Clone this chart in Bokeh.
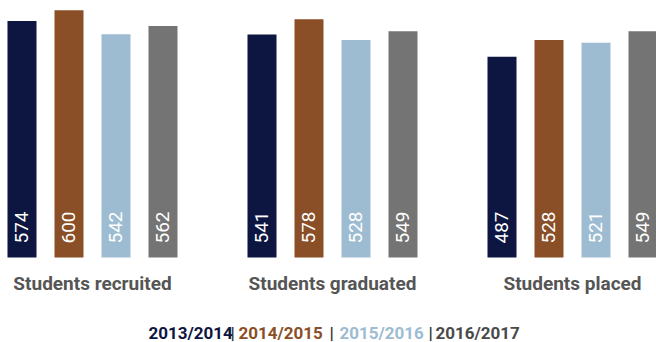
import math
from bokeh.plotting import figure
from bokeh.models import ColumnDataSource, Range1d, Label
from bokeh.transform import dodge
from bokeh.core.properties import value
from bokeh.embed import file_html
from bokeh.resources import INLINE

# ---- data ----
categories = ["Students recruited", "Students graduated", "Students placed"]
years = ["2013/2014", "2014/2015", "2015/2016", "2016/2017"]
v2013 = [574, 541, 487]
v2014 = [600, 578, 528]
v2015 = [542, 528, 521]
v2016 = [562, 549, 549]
colors = ["#0d1541", "#8a4f27", "#9dbcd1", "#747474"]

src = ColumnDataSource(data=dict(
    g=list(range(len(categories))),
    cat=categories,
    v2013=v2013, v2014=v2014, v2015=v2015, v2016=v2016,
    t2013=[str(v) for v in v2013], t2014=[str(v) for v in v2014],
    t2015=[str(v) for v in v2015], t2016=[str(v) for v in v2016],
))

p = figure(width=656, height=342, output_backend="svg", toolbar_location=None,
           x_range=Range1d(-0.3833, 2.35), y_range=Range1d(-206.3, 623.8),
           min_border=0, x_axis_location=None, y_axis_location=None)
p.outline_line_color = None
p.xgrid.visible = False
p.ygrid.visible = False
p.background_fill_color = "white"
p.border_fill_color = "white"

pitch = 47 / 240
offsets = [-1.5 * pitch, -0.5 * pitch, 0.5 * pitch, 1.5 * pitch]
keys = ["2013", "2014", "2015", "2016"]
for k, off, col in zip(keys, offsets, colors):
    p.vbar(x=dodge("g", off, range=p.x_range), top="v" + k, bottom=0,
           width=29 / 240, source=src, fill_color=col, line_color=None)
    p.text(x=dodge("g", off, range=p.x_range), y=0, text="t" + k, source=src,
           angle=math.pi / 2, y_offset=-14, text_align="left",
           text_baseline="middle", text_color="white",
           text_font=value("Roboto"), text_font_size="19px")

# category labels under each group
p.text(x="g", y=0, text="cat", source=src, y_offset=14, text_align="center",
       text_baseline="top", text_color="#555555", text_font=value("Roboto"),
       text_font_style="bold", text_font_size="19px")

# legend as coloured text
seg_text = [years[0], "|", years[1], "|", years[2], "|", years[3]]
seg_col = [colors[0], "#333333", colors[1], "#333333", colors[2], "#333333", "#4a4a4a"]
seg_x = [148, 230, 238, 329, 339, 428, 435]
for t, c, x in zip(seg_text, seg_col, seg_x):
    p.add_layout(Label(x=x, y=10, x_units="screen", y_units="screen", text=t,
                       text_color=c, text_font="Roboto", text_font_style="bold",
                       text_font_size="17px", text_baseline="alphabetic",
                       text_align="left"))

open("out.html", "w").write(file_html(p, INLINE))
